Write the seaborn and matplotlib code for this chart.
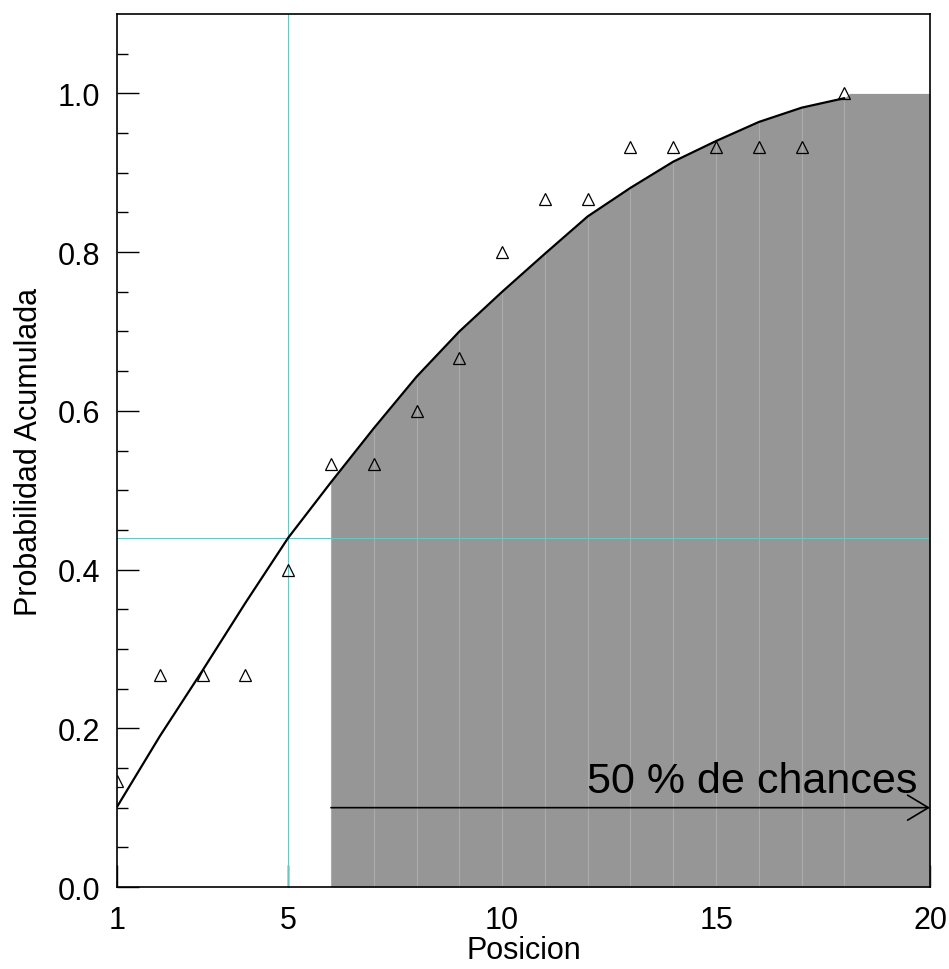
import numpy as np
import pandas as pd
import matplotlib
matplotlib.use("Agg")
import matplotlib.pyplot as plt
import seaborn as sns

# Datos
posicion = list(range(1, 19))
modelo = [0.101, 0.190, 0.273, 0.358, 0.440, 0.510, 0.578, 0.643, 0.700,
          0.750, 0.798, 0.845, 0.881, 0.914, 0.940, 0.964, 0.982, 0.994]
observado = [0.133, 0.267, 0.267, 0.267, 0.400, 0.533, 0.533, 0.600, 0.667,
             0.800, 0.867, 0.867, 0.933, 0.933, 0.933, 0.933, 0.933, 1.000]

# Región sombreada (posiciones 6..20), tope plano en 1.0 después de 18
zona_x = list(range(6, 19)) + [18.12, 20]
zona_top = modelo[5:] + [1.0, 1.0]
franjas = list(range(6, 19))

pos_critica = 5
prob_critica = 0.44

x_ticks = [1, 5, 10, 15, 20]
y_ticks = [0.0, 0.2, 0.4, 0.6, 0.8, 1.0]

sns.set_theme(style="white")
plt.rcParams["font.family"] = ["Liberation Sans", "DejaVu Sans"]
plt.rcParams["text.color"] = "black"
plt.rcParams["axes.labelcolor"] = "black"
plt.rcParams["xtick.color"] = "black"
plt.rcParams["ytick.color"] = "black"

fig = plt.figure(figsize=(9.49, 9.70), dpi=100)
ax = fig.add_axes([0.1233, 0.0845, 0.8567, 0.9])

# Sombreado
ax.fill_between(zona_x, 0, zona_top, color="#969696", linewidth=0, zorder=1)
top_map = dict(zip(zona_x, zona_top))
ax.vlines(franjas, 0, [top_map[f] for f in franjas], color="#ababab", lw=0.8, zorder=1.2)

# Líneas guía
ax.axvline(pos_critica, color="#33dddd", lw=0.8, zorder=1.5)
ax.axhline(prob_critica, color="#33dddd", lw=0.8, zorder=1.5)

df_mod = pd.DataFrame({"pos": posicion, "p": modelo})
df_obs = pd.DataFrame({"pos": posicion, "p": observado})
sns.lineplot(data=df_mod, x="pos", y="p", color="black", lw=1.6, ax=ax, zorder=3)
ax.plot(df_obs["pos"], df_obs["p"], ls="none", marker="^", ms=9,
        mfc="none", mec="black", mew=0.9, zorder=4)

# Flecha y texto
ax.annotate("", xy=(20, 0.1), xytext=(6, 0.1),
            arrowprops=dict(arrowstyle="->, head_length=0.75, head_width=0.45",
                            lw=1.2, color="black", shrinkA=0, shrinkB=0,
                            mutation_scale=20), zorder=5)
ax.text(19.7, 0.12, "50 % de chances", ha="right", va="baseline", fontsize=31, color="black")

ax.set_xlim(1, 20)
ax.set_ylim(0, 1.1)
ax.set_xticks(x_ticks)
ax.set_xticklabels([str(t) for t in x_ticks])
ax.set_yticks(y_ticks)
ax.set_yticklabels([f"{t:.1f}" for t in y_ticks])
ax.set_yticks(np.arange(0, 1.1, 0.05), minor=True)
ax.tick_params(axis="y", which="major", direction="in", length=16, width=1, labelsize=22,
               pad=12, left=True, right=False, colors="black")
ax.tick_params(axis="y", which="minor", direction="in", length=8, width=1, left=True, right=False)
ax.tick_params(axis="x", which="major", direction="in", length=16, width=1, labelsize=22,
               pad=13, bottom=True, top=False, colors="black")
ax.set_xlabel("Posicion", fontsize=22, labelpad=0, color="black")
ax.set_ylabel("Probabilidad Acumulada", fontsize=22, labelpad=10, color="black")
for s in ax.spines.values():
    s.set_color("black")
    s.set_linewidth(1.2)

plt.savefig("out.png", dpi=100)
plt.close()
